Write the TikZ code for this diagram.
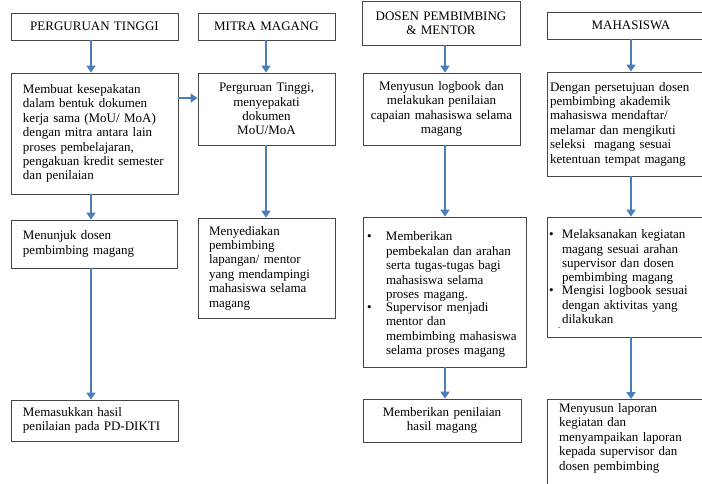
\documentclass[tikz,border=0pt]{standalone}
\usepackage{fontspec}
\setmainfont{Liberation Serif}
\usepackage{tikz}
\usetikzlibrary{arrows.meta}
\definecolor{flowblue}{RGB}{74,126,187}
\definecolor{boxline}{RGB}{70,70,70}
\newcommand{\bul}[2]{\par\noindent\makebox[#1][l]{\textbullet}\parbox[t]{\dimexpr\hsize-#1\relax}{#2}}
\begin{document}
\begin{tikzpicture} [
  x=1pt, y=-1pt,
  every node/.style= {font=\fontsize{13}{14.4}\selectfont},
  box/.style= {draw=boxline, line width=0.8pt, inner xsep=12pt, inner ysep=2pt, align=left},
  head/.style= {box, inner xsep=4pt, align=center},
  flow/.style= {draw=flowblue, line width=1.6pt, -{Triangle[width=9pt,length=7pt]}}
]
\useasboundingbox (0,0) rectangle (702,483);
\clip (0,0) rectangle (702,483);
\coordinate (x1) at (91,0);
\coordinate (x2) at (266,0);
\coordinate (x3) at (445,0);
\coordinate (x4) at (631,0);
\coordinate (yl) at (0,98);
\node (pt) [head, text width=159pt, minimum height=27pt] at (94.5,26.5) {PERGURUAN TINGGI};
\node (ptA) [box, text width=143pt, minimum height=121pt] at (94.5,133.5) {Membuat kesepakatan\\ dalam bentuk dokumen\\ kerja sama (MoU/ MoA)\\ dengan mitra antara lain\\ proses pembelajaran,\\ pengakuan kredit semester\\ dan penilaian};
\node (ptB) [box, text width=142pt, minimum height=48pt] at (94,244) {Menunjuk dosen\\ pembimbing magang};
\node (ptC) [box, text width=143pt, minimum height=41pt] at (94.5,420.5) {Memasukkan hasil\\ penilaian pada PD-DIKTI};
\node (mm) [head, text width=129pt, minimum height=27pt] at (266.5,26.5) {MITRA MAGANG};
\node (mmA) [head, text width=129pt, minimum height=72pt] at (266.5,109) {Perguruan Tinggi,\\ menyepakati\\ dokumen\\ MoU/MoA};
\node (mmB) [box, inner xsep=11pt, text width=115pt, minimum height=100pt] at (266.5,268) {Menyediakan\\ pembimbing\\ lapangan/ mentor\\ yang mendampingi\\ mahasiswa selama\\ magang};
\node (dm) [head, text width=150pt, minimum height=44pt] at (441,23) {DOSEN PEMBIMBING\\ \& MENTOR};
\node (dmA) [head, text width=149pt, minimum height=72pt] at (441.5,109) {Menyusun logbook dan\\ melakukan penilaian\\ capaian mahasiswa selama\\ magang};
\node (dmB) [box, inner xsep=4pt, text width=155pt, minimum height=150pt] at (444.5,292) {\bul{19pt}{Memberikan\\ pembekalan dan arahan\\ serta tugas-tugas bagi\\ mahasiswa selama\\ proses magang.}\bul{19pt}{Supervisor menjadi\\ mentor dan\\ membimbing mahasiswa\\ selama proses magang}};
\node (dmC) [head, text width=150pt, minimum height=43pt] at (442,420.5) {Memberikan penilaian\\ hasil magang};
\node (mh) [head, text width=160pt, minimum height=27pt] at (631,25.5) {MAHASISWA};
\node (mhA) [box, inner xsep=3pt, text width=162pt, minimum height=104pt] at (631,124) {Dengan persetujuan dosen\\ pembimbing akademik\\ mahasiswa mendaftar/\\ melamar dan mengikuti\\ seleksi\ \ magang sesuai\\ ketentuan tempat magang};
\node (mhB) [box, inner xsep=2pt, text width=164pt, minimum height=120pt] at (631,277) {\bul{13pt}{Melaksanakan kegiatan\\ magang sesuai arahan\\ supervisor dan dosen\\ pembimbing magang}\bul{13pt}{Mengisi logbook sesuai\\ dengan aktivitas yang\\ dilakukan}\par\vspace{3pt}\noindent\hspace*{9pt}{\scriptsize -}};
\node (mhC) [box, anchor=north, inner ysep=4pt, text width=144pt, text depth=95pt] at (631,399) {Menyusun laporan\\ kegiatan dan\\ menyampaikan laporan\\ kepada supervisor dan\\ dosen pembimbing};
\draw[flow] (pt.south -| x1) -- (ptA.north -| x1);
\draw[flow] (ptA.south -| x1) -- (ptB.north -| x1);
\draw[flow] (ptB.south -| x1) -- (ptC.north -| x1);
\draw[flow] (mm.south -| x2) -- (mmA.north -| x2);
\draw[flow] (mmA.south -| x2) -- (mmB.north -| x2);
\draw[flow] (dm.south -| x3) -- (dmA.north -| x3);
\draw[flow] (dmA.south -| x3) -- (dmB.north -| x3);
\draw[flow] (dmB.south -| x3) -- (dmC.north -| x3);
\draw[flow] (mh.south -| x4) -- (mhA.north -| x4);
\draw[flow] (mhA.south -| x4) -- (mhB.north -| x4);
\draw[flow] (mhB.south -| x4) -- (mhC.north -| x4);
\draw[flow] (ptA.east |- yl) -- (mmA.west |- yl);
\end{tikzpicture}
\end{document}
